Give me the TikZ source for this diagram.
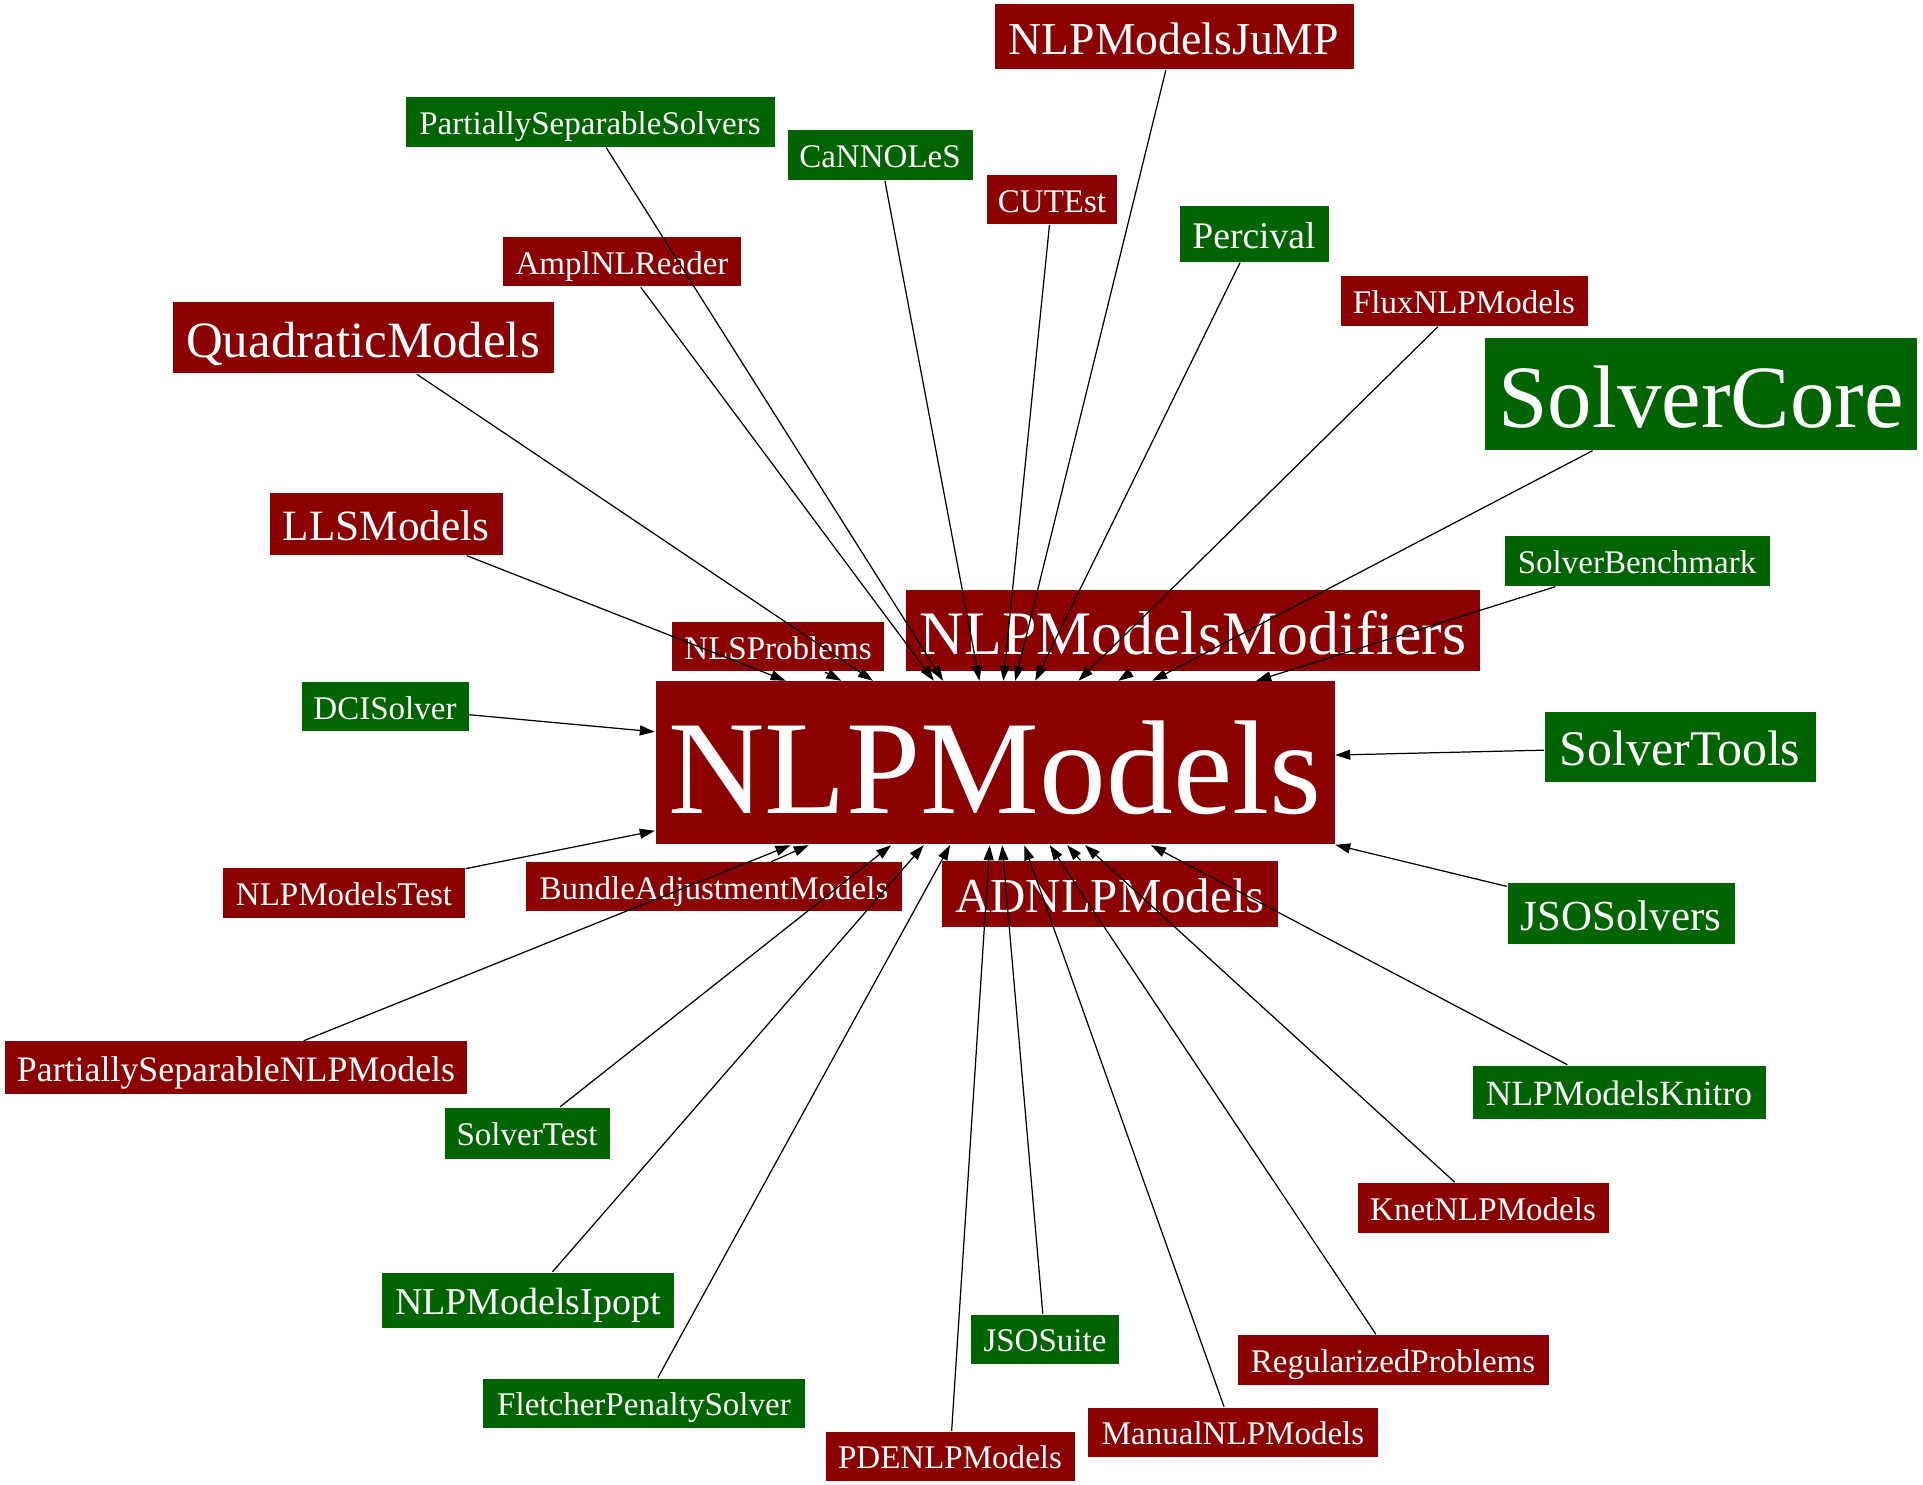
\documentclass[tikz,border=0pt]{standalone}
\usepackage{fontspec}
\setmainfont{Liberation Serif}
\usetikzlibrary{arrows.meta}

\definecolor{modelred}{HTML}{8B0000}
\definecolor{solvergreen}{HTML}{006400}
\newcommand{\fsz}[1]{\fontsize{#1}{#1}\selectfont}

\begin{document}
\begin{tikzpicture}[
  pkg/.style={rectangle, inner sep=0pt, text=white,
    execute at begin node={\rule[-0.23em]{0pt}{1.22em}}},
  model/.style={pkg, fill=modelred},
  solver/.style={pkg, fill=solvergreen},
  box/.style 2 args={minimum width=#1cm, minimum height=#2cm},
  dep/.style={-{Triangle[length=1.5mm, width=1mm]}, line width=0.35pt}
]
\useasboundingbox (0,0) rectangle (19.23,-14.85);

% --- Central package ---
\node[model, box={6.79}{1.63}, font=\fsz{38}] (nlp) at (9.95,-7.63) {NLPModels};

% --- Upper half ---
\node[model,  box={3.59}{0.65}, font=\fsz{13}]   (jump)     at (11.74,-0.37) {NLPModelsJuMP};
\node[solver, box={3.69}{0.50}, font=\fsz{9.4}]  (pss)      at (5.90,-1.22)  {PartiallySeparableSolvers};
\node[solver, box={1.85}{0.50}, font=\fsz{9.4}]  (cannoles) at (8.80,-1.55)  {CaNNOLeS};
\node[model,  box={1.30}{0.49}, font=\fsz{9.4}]  (cutest)   at (10.52,-2.00) {CUTEst};
\node[solver, box={1.49}{0.56}, font=\fsz{10.7}] (percival) at (12.54,-2.34) {Percival};
\node[model,  box={2.38}{0.49}, font=\fsz{9.4}]  (ampl)     at (6.22,-2.62)  {AmplNLReader};
\node[model,  box={2.47}{0.50}, font=\fsz{9.4}]  (flux)     at (14.64,-3.01) {FluxNLPModels};
\node[model,  box={3.81}{0.71}, font=\fsz{14.5}] (quad)     at (3.63,-3.38)  {QuadraticModels};
\node[solver, box={4.32}{1.12}, font=\fsz{25.3}] (core)     at (17.01,-3.94) {SolverCore};
\node[model,  box={2.33}{0.62}, font=\fsz{12.3}] (lls)      at (3.86,-5.24)  {LLSModels};
\node[solver, box={2.65}{0.50}, font=\fsz{9.4}]  (bench)    at (16.37,-5.61) {SolverBenchmark};
\node[model,  box={5.74}{0.81}, font=\fsz{17.6}] (modif)    at (11.93,-6.31) {NLPModelsModifiers};
\node[model,  box={2.12}{0.49}, font=\fsz{9.4}]  (nlsprob)  at (7.78,-6.47)  {NLSProblems};
\node[solver, box={1.67}{0.49}, font=\fsz{9.4}]  (dci)      at (3.85,-7.07)  {DCISolver};
\node[solver, box={2.71}{0.70}, font=\fsz{14.2}] (tools)    at (16.80,-7.47) {SolverTools};

% --- Lower half ---
\node[model,  box={2.42}{0.50}, font=\fsz{9.4}]  (test)     at (3.44,-8.93)  {NLPModelsTest};
\node[model,  box={3.76}{0.49}, font=\fsz{9.4}]  (bundle)   at (7.14,-8.87)  {BundleAdjustmentModels};
\node[model,  box={3.36}{0.66}, font=\fsz{13.9}] (ad)       at (11.10,-8.94) {ADNLPModels};
\node[solver, box={2.27}{0.61}, font=\fsz{12.2}] (jsosolv)  at (16.21,-9.14) {JSOSolvers};
\node[model,  box={4.62}{0.53}, font=\fsz{10.2}] (psnlp)    at (2.36,-10.68) {PartiallySeparableNLPModels};
\node[solver, box={2.93}{0.53}, font=\fsz{10.1}] (knitro)   at (16.19,-10.92) {NLPModelsKnitro};
\node[solver, box={1.65}{0.51}, font=\fsz{9.4}]  (stest)    at (5.27,-11.33) {SolverTest};
\node[model,  box={2.51}{0.50}, font=\fsz{9.4}]  (knet)     at (14.83,-12.08) {KnetNLPModels};
\node[solver, box={2.92}{0.55}, font=\fsz{10.8}] (ipopt)    at (5.28,-13.00) {NLPModelsIpopt};
\node[solver, box={1.48}{0.49}, font=\fsz{9.4}]  (jsosuite) at (10.45,-13.39) {JSOSuite};
\node[model,  box={3.11}{0.50}, font=\fsz{9.4}]  (regul)    at (13.93,-13.60) {RegularizedProblems};
\node[solver, box={3.22}{0.49}, font=\fsz{9.4}]  (fletcher) at (6.44,-14.03) {FletcherPenaltySolver};
\node[model,  box={2.90}{0.49}, font=\fsz{9.4}]  (manual)   at (12.33,-14.32) {ManualNLPModels};
\node[model,  box={2.49}{0.49}, font=\fsz{9.4}]  (pde)      at (9.50,-14.56) {PDENLPModels};

% --- Dependencies (all point to NLPModels) ---
\foreach \n in {jump, pss, cannoles, cutest, percival, ampl, flux, quad, core, lls,
  bench, modif, nlsprob, dci, tools, test, bundle, ad, jsosolv, psnlp, knitro,
  stest, knet, ipopt, jsosuite, regul, fletcher, manual, pde}
  \draw[dep] (\n) -- (nlp);

\end{tikzpicture}
\end{document}
